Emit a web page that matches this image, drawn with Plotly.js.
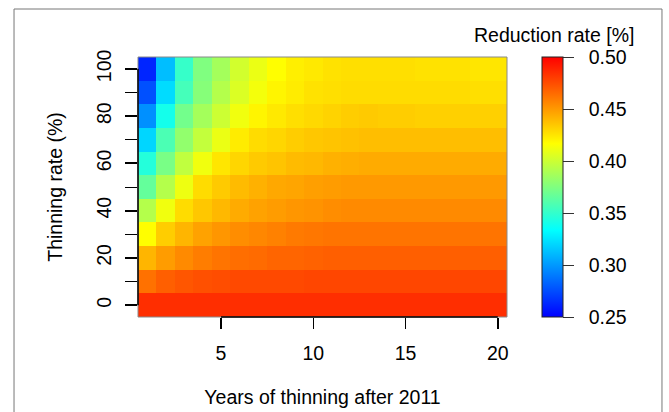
<!DOCTYPE html>
<html>
<head>
<meta charset="utf-8">
<script src="https://cdn.plot.ly/plotly-3.0.1.min.js"></script>
<style>
  html, body { margin: 0; padding: 0; background: #ffffff; }
  #chart { width: 669px; height: 412px; }
</style>
</head>
<body>
<div id="chart"></div>
<script>
// Years of thinning after 2011 (x categories)
const years = [1,2,3,4,5,6,7,8,9,10,11,12,13,14,15,16,17,18,19,20];
// Thinning rate (%) (y categories)
const thinningRates = [0,10,20,30,40,50,60,70,80,90,100];

// Reduction rate values, one array per thinning rate (years 1..20)
const rate0   = [0.485,0.485,0.485,0.485,0.485,0.485,0.485,0.485,0.485,0.485,0.485,0.485,0.485,0.485,0.485,0.485,0.485,0.485,0.485,0.485];
const rate10  = [0.463,0.469,0.472,0.474,0.475,0.476,0.476,0.476,0.476,0.477,0.477,0.477,0.477,0.477,0.477,0.477,0.477,0.477,0.477,0.477];
const rate20  = [0.441,0.449,0.455,0.459,0.462,0.464,0.465,0.467,0.467,0.468,0.469,0.469,0.469,0.469,0.469,0.469,0.469,0.469,0.469,0.469];
const rate30  = [0.417,0.433,0.441,0.447,0.451,0.454,0.456,0.458,0.460,0.461,0.462,0.462,0.462,0.462,0.462,0.462,0.462,0.462,0.462,0.462];
const rate40  = [0.392,0.412,0.428,0.435,0.440,0.444,0.447,0.449,0.451,0.452,0.454,0.455,0.455,0.455,0.455,0.455,0.455,0.455,0.455,0.455];
const rate50  = [0.366,0.392,0.411,0.428,0.434,0.439,0.442,0.445,0.446,0.448,0.449,0.450,0.450,0.450,0.450,0.450,0.450,0.450,0.450,0.450];
const rate60  = [0.345,0.373,0.396,0.412,0.425,0.430,0.434,0.436,0.439,0.440,0.442,0.443,0.444,0.444,0.444,0.444,0.444,0.444,0.444,0.444];
const rate70  = [0.320,0.358,0.381,0.397,0.410,0.423,0.428,0.430,0.433,0.435,0.436,0.437,0.438,0.438,0.438,0.438,0.438,0.438,0.438,0.438];
const rate80  = [0.297,0.340,0.371,0.387,0.400,0.412,0.420,0.424,0.427,0.429,0.431,0.433,0.434,0.433,0.433,0.432,0.432,0.432,0.432,0.432];
const rate90  = [0.276,0.322,0.356,0.377,0.392,0.405,0.413,0.420,0.423,0.426,0.427,0.428,0.428,0.428,0.428,0.428,0.428,0.428,0.427,0.427];
const rate100 = [0.262,0.312,0.351,0.375,0.387,0.402,0.410,0.417,0.422,0.424,0.426,0.427,0.427,0.427,0.427,0.426,0.426,0.426,0.425,0.425];

const zRows = [rate0, rate10, rate20, rate30, rate40, rate50, rate60, rate70, rate80, rate90, rate100];

// Colour bar ticks
const cbTicks = [0.25, 0.30, 0.35, 0.40, 0.45, 0.50];
const cbTickText = ["0.25", "0.30", "0.35", "0.40", "0.45", "0.50"];
const xTicks = [5, 10, 15, 20];
const yTicks = [0, 20, 40, 60, 80, 100];

const FONT = "Liberation Sans, Arial, Helvetica, sans-serif";
const FS = 19.5;
const PAD = "\u00a0\u00a0";

const trace = {
  type: "heatmap",
  x: years,
  y: thinningRates,
  z: zRows,
  zmin: 0.25,
  zmax: 0.50,
  zsmooth: false,
  colorscale: [
    [0.0, "#0000FF"],
    [0.3333, "#00FFFF"],
    [0.6667, "#FFFF00"],
    [1.0, "#FF0000"]
  ],
  colorbar: {
    x: 1.095, xanchor: "left", xref: "paper",
    y: 0.5, yanchor: "middle",
    len: 1, lenmode: "fraction",
    thickness: 21, thicknessmode: "pixels",
    xpad: 0, ypad: 0,
    outlinewidth: 1, outlinecolor: "#222222",
    ticks: "outside", ticklen: 11, tickwidth: 1, tickcolor: "#333333",
    tickvals: cbTicks, ticktext: cbTickText.map(t => PAD + t),
    tickfont: { family: FONT, size: FS, color: "#000000" }
  },
  hoverinfo: "x+y+z"
};

const layout = {
  width: 669, height: 412,
  margin: { l: 138, r: 162, t: 57, b: 95 },
  paper_bgcolor: "#ffffff",
  plot_bgcolor: "#ffffff",
  font: { family: FONT, size: FS, color: "#000000" },
  xaxis: {
    range: [0.5, 20.5],
    tickvals: xTicks,
    ticks: "outside", ticklen: 11, tickwidth: 1.5, tickcolor: "#000000",
    ticklabelstandoff: 8,
    showgrid: false, zeroline: false, showline: false,
    tickfont: { family: FONT, size: FS },
    title: { text: "Years of thinning after 2011", font: { family: FONT, size: FS }, standoff: 26 }
  },
  yaxis: {
    range: [-5, 105],
    tickvals: yTicks,
    tickangle: -90,
    ticks: "outside", ticklen: 12, tickwidth: 2, tickcolor: "#000000",
    ticklabelstandoff: 6,
    minor: { dtick: 10, tick0: 0, ticks: "outside", ticklen: 12, tickwidth: 1, tickcolor: "#000000" },
    showgrid: false, zeroline: false, showline: false,
    tickfont: { family: FONT, size: FS },
    title: { text: "Thinning rate (%)", font: { family: FONT, size: FS }, standoff: 25 }
  },
  shapes: [
    // outer frame
    { type: "rect", xref: "paper", yref: "paper", x0: -0.336, x1: 1.420, y0: -0.40, y1: 1.1846,
      line: { color: "#777777", width: 1 }, fillcolor: "rgba(0,0,0,0)", layer: "above" },
    // plot box
    { type: "rect", xref: "paper", yref: "paper", x0: 0, x1: 1, y0: 0, y1: 1,
      line: { color: "#8a8a8a", width: 1 }, fillcolor: "rgba(0,0,0,0)", layer: "above" },
    // y axis line (0..100)
    { type: "line", xref: "paper", yref: "y", x0: 0, x1: 0, y0: 0, y1: 100,
      line: { color: "#000000", width: 1.5 }, layer: "above" },
    // x axis line (5..20)
    { type: "line", xref: "x", yref: "paper", x0: 5, x1: 20, y0: 0, y1: 0,
      line: { color: "#000000", width: 1.5 }, layer: "above" }
  ],
  annotations: [
    { text: "Reduction rate [%]", xref: "paper", yref: "paper",
      x: (636 - 138) / 369, y: (317 - 35) / 260, xanchor: "right", yanchor: "middle",
      showarrow: false, font: { family: FONT, size: FS, color: "#000000" } }
  ]
};

Plotly.newPlot("chart", [trace], layout, { displayModeBar: false, staticPlot: true });
</script>
</body>
</html>
